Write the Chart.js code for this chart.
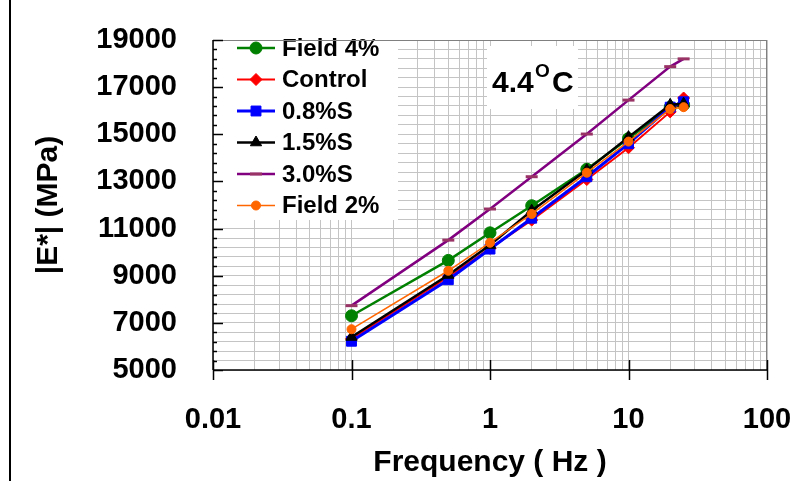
<!DOCTYPE html>
<html lang="en">
<head>
<meta charset="UTF-8" />
<title>|E*| vs Frequency - 4.4C</title>
<script src="https://cdn.jsdelivr.net/npm/chart.js"></script>
<style>
  html, body { margin: 0; padding: 0; background: #fff; }
  canvas { display: block; }
</style>
</head>
<body>
<canvas id="chart" width="798" height="481"></canvas>
<script>
// frequencies (Hz) and |E*| values (MPa)
const freq = [0.1, 0.5, 1, 2, 5, 10, 20, 25];
const field4  = [7300, 9650, 10820, 11970, 13520, 14820, 16150, 16250];
const control = [6320, 8950, 10160, 11360, 13080, 14430, 15950, 16540];
const s08     = [6220, 8830, 10130, 11440, 13200, 14600, 16150, 16380];
const s15     = [6400, 9030, 10300, 11760, 13480, 14880, 16250, 16300];
const s30     = [7730, 10510, 11830, 13200, 15010, 16450, 17870, 18200];
const field2  = [6730, 9210, 10400, 11620, 13370, 14690, 16070, 16150];

const seriesNames = ['Field 4%', 'Control', '0.8%S', '1.5%S', '3.0%S', 'Field 2%'];
const xDecades = [0.01, 0.1, 1, 10, 100];
const xTickLabels = ['0.01', '0.1', '1', '10', '100'];
const yTickLabels = [5000, 7000, 9000, 11000, 13000, 15000, 17000, 19000];
const tempLabel = ['4.4', 'O', 'C'];

const FONT = '"Liberation Sans", Arial, Helvetica, sans-serif';

function pts(vals) {
  return freq.map((f, i) => ({ x: f, y: vals[i] }));
}

// tick labels must not push the plot area around
function noLabelPadding(scale) {
  scale.paddingLeft = 0;
  scale.paddingRight = 0;
  scale.paddingTop = 0;
  scale.paddingBottom = 0;
}

// label box, legend and axis lines drawn by hand (Excel style)
const decor = {
  id: 'decor',
  beforeDatasetsDraw(chart) {
    const ctx = chart.ctx;
    ctx.save();
    ctx.fillStyle = '#fff';
    ctx.fillRect(214, 41, 184, 179);
    ctx.fillRect(487, 46, 91, 63);

    chart.data.datasets.forEach((ds, i) => {
      const y = 48 + i * 31.5;
      ctx.strokeStyle = ds.borderColor;
      ctx.lineWidth = ds.borderWidth;
      ctx.beginPath();
      ctx.moveTo(237, y);
      ctx.lineTo(275, y);
      ctx.stroke();
      ctx.fillStyle = ds.pointBackgroundColor;
      ctx.strokeStyle = ds.pointBorderColor;
      ctx.lineWidth = ds.pointBorderWidth;
      Chart.helpers.drawPoint(ctx, {
        pointStyle: ds.pointStyle, radius: ds.pointRadius,
        rotation: 0, borderWidth: ds.pointBorderWidth
      }, 256, y);
      ctx.fillStyle = '#000';
      ctx.font = 'bold 24px ' + FONT;
      ctx.textAlign = 'left';
      ctx.textBaseline = 'middle';
      ctx.fillText(ds.label, 282, y + 1);
    });

    ctx.fillStyle = '#000';
    ctx.textAlign = 'left';
    ctx.textBaseline = 'alphabetic';
    ctx.font = 'bold 30px ' + FONT;
    ctx.fillText(tempLabel[0], 492, 92);
    ctx.font = 'bold 19px ' + FONT;
    ctx.fillText(tempLabel[1], 535, 77);
    ctx.font = 'bold 30px ' + FONT;
    ctx.fillText(tempLabel[2], 552, 92);
    ctx.restore();
  },
  afterDraw(chart) {
    const ctx = chart.ctx;
    const { left, right, top, bottom } = chart.chartArea;
    const ys = chart.scales.y, xs = chart.scales.x;
    ctx.save();
    ctx.strokeStyle = '#808080';
    ctx.lineWidth = 1;
    ctx.beginPath();
    ctx.moveTo(left, top + 0.5); ctx.lineTo(right, top + 0.5);
    ctx.moveTo(right - 0.5, top); ctx.lineTo(right - 0.5, bottom);
    ctx.stroke();

    ctx.strokeStyle = '#000';
    ctx.lineWidth = 1.5;
    ctx.beginPath();
    ctx.moveTo(left, top); ctx.lineTo(left, bottom);
    ctx.moveTo(left, bottom); ctx.lineTo(right, bottom);
    ys.ticks.forEach(t => {
      const py = Math.round(ys.getPixelForValue(t.value)) + 0.5;
      const len = yTickLabels.includes(t.value) ? 10 : 4;
      ctx.moveTo(left, py); ctx.lineTo(left + len, py);
    });
    xDecades.forEach(d => {
      const px = Math.round(xs.getPixelForValue(d)) + 0.5;
      ctx.moveTo(px, bottom - 10); ctx.lineTo(px, bottom + 10);
    });
    ctx.stroke();

    // frame edge on the left of the picture
    ctx.lineWidth = 2;
    ctx.beginPath();
    ctx.moveTo(10, 0); ctx.lineTo(10, chart.height);
    ctx.stroke();
    ctx.restore();
  }
};

Chart.defaults.color = '#000';
Chart.defaults.font.family = FONT;

new Chart(document.getElementById('chart'), {
  type: 'line',
  data: {
    datasets: [
      { label: seriesNames[0], data: pts(field4), borderColor: '#008000', borderWidth: 2.5,
        pointStyle: 'circle', pointRadius: 6, pointBackgroundColor: '#008000', pointBorderColor: '#008000', pointBorderWidth: 1, order: 6 },
      { label: seriesNames[1], data: pts(control), borderColor: '#ff0000', borderWidth: 2,
        pointStyle: 'rectRot', pointRadius: 6, pointBackgroundColor: '#ff0000', pointBorderColor: '#ff0000', pointBorderWidth: 1, order: 5 },
      { label: seriesNames[2], data: pts(s08), borderColor: '#0000ff', borderWidth: 3,
        pointStyle: 'rect', pointRadius: 7, pointBackgroundColor: '#0000ff', pointBorderColor: '#0000ff', pointBorderWidth: 1, order: 4 },
      { label: seriesNames[3], data: pts(s15), borderColor: '#000000', borderWidth: 2.5,
        pointStyle: 'triangle', pointRadius: 6.5, pointBackgroundColor: '#000000', pointBorderColor: '#000000', pointBorderWidth: 1, order: 3 },
      { label: seriesNames[4], data: pts(s30), borderColor: '#800080', borderWidth: 2.5,
        pointStyle: 'line', pointRadius: 6, pointBackgroundColor: '#993366', pointBorderColor: '#993366', pointBorderWidth: 3, order: 2 },
      { label: seriesNames[5], data: pts(field2), borderColor: '#ff6600', borderWidth: 1.5,
        pointStyle: 'circle', pointRadius: 4.5, pointBackgroundColor: '#ff6600', pointBorderColor: '#ff6600', pointBorderWidth: 1, order: 1 }
    ]
  },
  options: {
    responsive: false,
    animation: false,
    devicePixelRatio: 1,
    layout: { padding: { left: 0, top: 40, right: 31, bottom: 0 } },
    elements: { line: { tension: 0 } },
    plugins: { legend: { display: false }, tooltip: { enabled: false } },
    scales: {
      x: {
        type: 'logarithmic',
        min: 0.01,
        max: 100,
        afterBuildTicks(scale) {
          const t = [];
          xDecades.forEach((d, i) => {
            if (i === xDecades.length - 1) t.push({ value: d });
            else for (let m = 1; m < 10; m++) t.push({ value: d * m });
          });
          scale.ticks = t;
        },
        afterFit(scale) {
          scale.height = 111;
          noLabelPadding(scale);
        },
        grid: { color: '#c4c4c4', lineWidth: 1, drawTicks: false },
        border: { display: false },
        ticks: {
          autoSkip: false,
          maxRotation: 0,
          padding: 33,
          font: { size: 29, weight: 'bold' },
          callback(value) {
            const k = xDecades.findIndex(d => Math.abs(d - value) < d * 1e-6);
            return k >= 0 ? xTickLabels[k] : '';
          }
        },
        title: {
          display: true,
          text: 'Frequency ( Hz )',
          font: { size: 30, weight: 'bold' },
          padding: { top: 0, bottom: 0 }
        }
      },
      y: {
        min: 5000,
        max: 19000,
        afterFit(scale) {
          scale.width = 213;
          noLabelPadding(scale);
        },
        grid: { color: '#c4c4c4', lineWidth: 1, drawTicks: false },
        border: { display: false },
        ticks: {
          stepSize: 400,
          autoSkip: false,
          padding: 36,
          font: { size: 29, weight: 'bold' },
          callback(value) {
            return yTickLabels.includes(value) ? String(value) : '';
          }
        },
        title: {
          display: true,
          text: '|E*| (MPa)',
          font: { size: 30, weight: 'bold' },
          padding: { top: 31, bottom: 0 }
        }
      }
    }
  },
  plugins: [decor]
});
</script>
</body>
</html>
